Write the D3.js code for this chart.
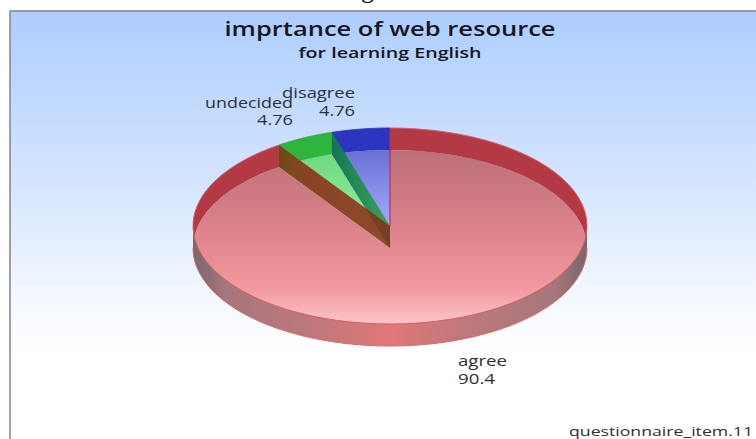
<!DOCTYPE html>
<html>
<head>
<meta charset="utf-8">
<script src="https://cdn.jsdelivr.net/npm/d3@7"></script>
<style>
  html, body { margin: 0; padding: 0; background: #fff; overflow: hidden; }
  text { font-family: "Open Sans", sans-serif; }
</style>
</head>
<body>
<div id="chart"></div>
<script>
const categories = ["agree", "undecided", "disagree"];
const values = [90.4, 4.76, 4.76];
const valueLabels = ["90.4", "4.76", "4.76"];

const dimensions = {
    width: 756,
    height: 439,
    frameX: 10,
    frameY: 11,
    cx: 390,
    cy: 226,
    rx: 197,
    ry: 98,
    depth: 22
};

const svg = d3.select("#chart")
    .append("svg")
    .attr("width", dimensions.width)
    .attr("height", dimensions.height)
    .style("display", "block");

const defs = svg.append("defs");

function addGradient(id, stops, x1, y1, x2, y2) {
    const grad = defs.append("linearGradient")
        .attr("id", id)
        .attr("gradientUnits", "userSpaceOnUse")
        .attr("x1", x1).attr("y1", y1)
        .attr("x2", x2).attr("y2", y2);
    stops.forEach(s => grad.append("stop").attr("offset", s[0]).attr("stop-color", s[1]));
}

const { cx, cy, rx, ry, depth } = dimensions;

// floors are drawn scaled, so their gradients need y in the unscaled space
const floorY = y => (y - (cy + depth)) * rx / ry;

addGradient("bg", [[0, "#adcdff"], [0.5, "#d5e5ff"], [0.8, "#f2f7ff"], [1, "#ffffff"]], 0, 11, 0, 358);
addGradient("floorRed", [[0, "#bd6f78"], [0.5, "#df858d"], [0.8, "#f29aa0"], [1, "#fcc6ca"]], 0, floorY(150), 0, floorY(324));
addGradient("floorGreen", [[0, "#6fd67f"], [1, "#90f0a0"]], 0, floorY(150), 0, floorY(226));
addGradient("floorBlue", [[0, "#6a70d2"], [1, "#a4a9ff"]], 0, floorY(150), 0, floorY(226));
addGradient("frontRed", [
    [0, "#77656a"], [0.08, "#a5777c"], [0.3, "#bd787c"], [0.5, "#e17878"], [0.7, "#bd787c"], [0.92, "#a5777c"], [1, "#77656a"]
], cx - rx, 0, cx + rx, 0);
addGradient("cutBrown", [[0, "#6b4a12"], [0.12, "#7a4a1c"], [0.25, "#8a4226"], [1, "#8f4a2a"]], 278, 0, 390, 0);
addGradient("cutGreen", [[0, "#17705a"], [0.3, "#1f8655"], [1, "#3aa060"]], 332, 0, 390, 0);

svg.append("rect")
    .attr("x", dimensions.frameX)
    .attr("y", dimensions.frameY)
    .attr("width", dimensions.width)
    .attr("height", dimensions.height)
    .attr("fill", "url(#bg)")
    .attr("stroke", "#8a8a8a")
    .attr("stroke-width", 1.6);

// tail of the word above the chart, cut by the image edge
svg.append("text")
    .attr("x", 361)
    .attr("y", -2)
    .attr("font-size", 26)
    .style("font-family", "'Liberation Serif', serif")
    .attr("fill", "#111")
    .text("g");

const pie = d3.pie().sort(null).value(d => d);
const slices = pie(values);

const wedge = d3.arc().innerRadius(0).outerRadius(rx);

const ellipsePoint = (angle, dy) => [
    cx + rx * Math.sin(angle),
    cy + dy - ry * Math.cos(angle)
];

// band between the top rim and the bottom rim for one angle range
function wallPath(a0, a1) {
    const steps = d3.range(0, 41).map(i => a0 + (a1 - a0) * i / 40);
    const top = steps.map(a => ellipsePoint(a, 0));
    const bottom = steps.slice().reverse().map(a => ellipsePoint(a, depth));
    return d3.line()(top.concat(bottom)) + "Z";
}

function radialWallPath(angle) {
    return d3.line()([
        [cx, cy],
        ellipsePoint(angle, 0),
        ellipsePoint(angle, depth),
        [cx, cy + depth]
    ]) + "Z";
}

const floorFills = ["url(#floorRed)", "url(#floorGreen)", "url(#floorBlue)"];
const backFills = ["#b33a45", "#2fb53e", "#2b35bf"];
const edgeColors = ["#d2606a", "#2fa83e", "#2b35bf"];

const pieGroup = svg.append("g");

// floor of each slice
pieGroup.selectAll(".floor")
    .data(slices)
    .join("path")
    .attr("class", "floor")
    .attr("transform", `translate(${cx},${cy + depth}) scale(1,${ry / rx})`)
    .attr("d", wedge)
    .attr("fill", (d, i) => floorFills[i]);

// inner walls at the back, seen through the top of the pie
const backRanges = [
    [slices[0].startAngle, Math.PI / 2, 0],
    [3 * Math.PI / 2, slices[0].endAngle, 0],
    [slices[1].startAngle, slices[1].endAngle, 1],
    [slices[2].startAngle, slices[2].endAngle, 2]
];

pieGroup.selectAll(".back")
    .data(backRanges)
    .join("path")
    .attr("class", "back")
    .attr("d", d => wallPath(d[0], d[1]))
    .attr("fill", d => backFills[d[2]]);

// walls along the slice cuts
const greenCut = radialWallPath(slices[2].startAngle);
const brownCut = radialWallPath(slices[1].startAngle);

pieGroup.append("path")
    .attr("d", greenCut)
    .attr("fill", "url(#cutGreen)");

pieGroup.append("path")
    .attr("d", brownCut)
    .attr("fill", "url(#cutBrown)");

// where the two cut walls overlap near the centre it goes darker
defs.append("clipPath")
    .attr("id", "greenCutClip")
    .append("path")
    .attr("d", greenCut);

pieGroup.append("path")
    .attr("d", brownCut)
    .attr("clip-path", "url(#greenCutClip)")
    .attr("fill", "#74401f");

// front wall
pieGroup.append("path")
    .attr("d", wallPath(Math.PI / 2, 3 * Math.PI / 2))
    .attr("fill", "url(#frontRed)");

// rims of the top face and the bottom edge
const rim = (a0, a1, dy) => d3.line()(d3.range(0, 81).map(i => ellipsePoint(a0 + (a1 - a0) * i / 80, dy)));

pieGroup.selectAll(".rim")
    .data(slices)
    .join("path")
    .attr("class", "rim")
    .attr("d", d => rim(d.startAngle, d.endAngle, 0))
    .attr("fill", "none")
    .attr("stroke", (d, i) => edgeColors[i])
    .attr("stroke-width", 1);

pieGroup.append("path")
    .attr("d", rim(Math.PI / 2, 3 * Math.PI / 2, depth))
    .attr("fill", "none")
    .attr("stroke", "#d96a6e")
    .attr("stroke-width", 1);

// agree / disagree cut seen edge on
pieGroup.append("path")
    .attr("d", d3.line()([ellipsePoint(0, 0), [cx, cy]]))
    .attr("stroke", "#c02a55")
    .attr("stroke-width", 1.2);

// the source picture was stretched sideways, so text is fitted to its width
function addText(str, x, y, size, width, weight, anchor, color) {
    svg.append("text")
        .attr("x", x)
        .attr("y", y)
        .attr("font-size", size)
        .attr("font-weight", weight)
        .attr("text-anchor", anchor)
        .attr("textLength", width)
        .attr("lengthAdjust", "spacingAndGlyphs")
        .attr("fill", color)
        .text(str);
}

addText("imprtance of web resource", 390, 36, 19, 331, 600, "middle", "#16161c");
addText("for learning English", 390, 58, 14.5, 183, 600, "middle", "#16161c");

const labelSpots = [
    { x: 458, nameY: 366, valueY: 384, anchor: "start", nameW: 49, valueW: 37 },
    { x: 293, nameY: 108, valueY: 125, anchor: "end", nameW: 88, valueW: 36 },
    { x: 355, nameY: 98, valueY: 116, anchor: "end", nameW: 73, valueW: 36 }
];

labelSpots.forEach((spot, i) => {
    addText(categories[i], spot.x, spot.nameY, 14, spot.nameW, 400, spot.anchor, "#2c3038");
    addText(valueLabels[i], spot.x, spot.valueY, 14, spot.valueW, 400, spot.anchor, "#2c3038");
});

addText("questionnaire_item.11", 753, 435.5, 13.5, 184, 400, "end", "#2c3038");
</script>
</body>
</html>
